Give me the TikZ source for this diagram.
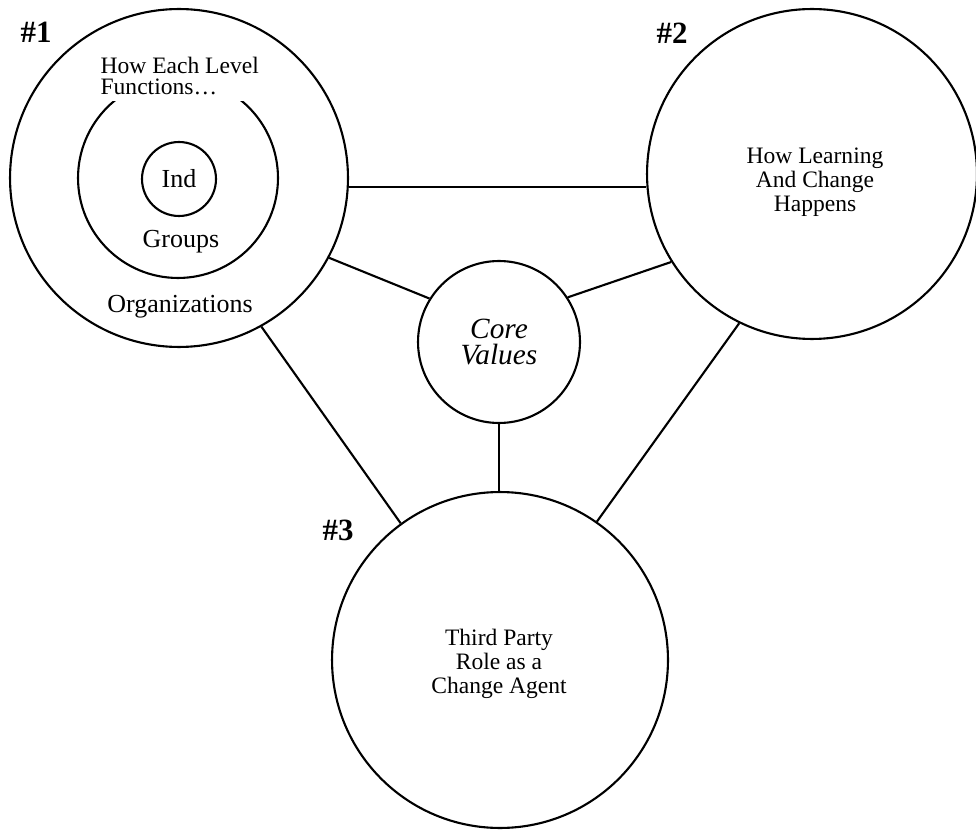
\documentclass[tikz,border=0pt]{standalone}
\usepackage{fontspec}
\setmainfont{Liberation Serif}
\usetikzlibrary{positioning}

\begin{document}
\begin{tikzpicture}[
    x=0.02cm, y=0.02cm,
    ring/.style={circle, draw, line width=1.2pt, inner sep=0pt, align=center, font=\fontsize{13.4}{13.6}\selectfont},
    txt/.style={align=center, font=\fontsize{13.4}{13.6}\selectfont},
    link/.style={line width=1.2pt},
    num/.style={font=\fontsize{17.6}{18}\selectfont\bfseries},
    level/.style={font=\fontsize{14.8}{15}\selectfont},
]
\useasboundingbox (0,0) rectangle (976,829);

% ============================================
% MAIN CIRCLES
% ============================================
\node[ring, minimum size=6.76cm] (func) at (179,651) {};
\node[ring, minimum size=6.6cm] (learn) at (812,655) {};
\node[ring, minimum size=6.72cm] (agent) at (500,169) {};

\node[ring, minimum size=3.24cm, font=\fontsize{16.7}{15.2}\selectfont\itshape] (core) at (499,487) {Core\\Values};

\node[txt] (learntxt) at (815,647) {How Learning\\And Change\\Happens};
\node[txt] (agenttxt) at (499,165) {Third Party\\Role as a\\Change Agent};

% ============================================
% LEVELS INSIDE #1
% ============================================
\node[ring, minimum size=4cm] (groups) at (178,651) {};
\node[ring, level, minimum size=1.48cm] (ind) at (179,650) {Ind};

\node[level] (grouplbl) at (181,587) {Groups};
\node[level] (orglbl) at (180,522) {Organizations};

\node[anchor=west, fill=white, inner sep=3pt, align=left, font=\fontsize{13.4}{12.5}\selectfont] (levelhead) at (95,753) {How Each Level\\Functions\ldots};

% ============================================
% CONNECTORS
% ============================================
\draw[link] (func.-3) -- (func.-3 -| learn.west);
\draw[link] (func.-28) -- (core.148);
\draw[link] (core.33) -- (learn.212);
\draw[link] (core.south) -- (core.south |- agent.north);
\draw[link] (func.-61) -- (agent.126);
\draw[link] (learn.244) -- (agent.55);

% ============================================
% NUMBERS
% ============================================
\node[num] (n1) at (36,797) {\#1};
\node[num] (n2) at (672,796) {\#2};
\node[num] (n3) at (338,299) {\#3};

\end{tikzpicture}
\end{document}
